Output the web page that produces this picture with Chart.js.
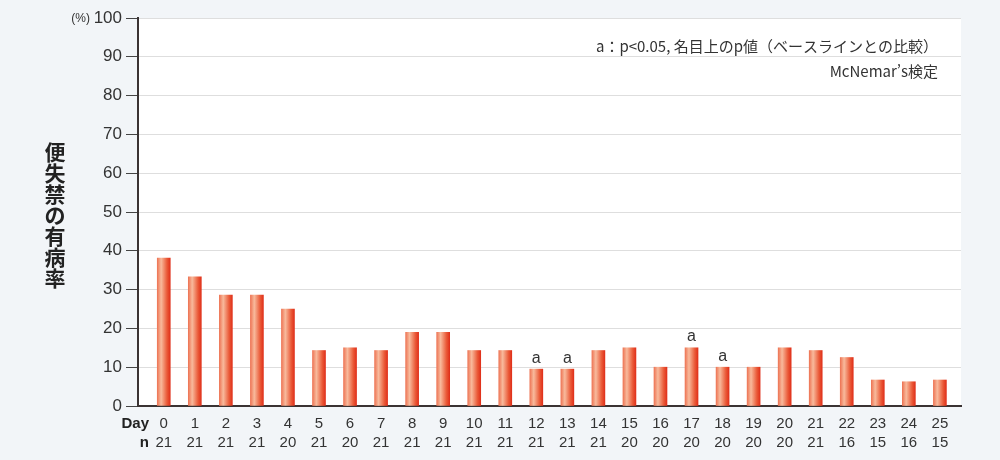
<!DOCTYPE html>
<html lang="ja">
<head>
	<meta charset="UTF-8">
	<title>便失禁の有病率</title>
	<style>
		html, body { margin: 0; padding: 0; background: #f2f5f8; }
		#wrap { width: 1000px; height: 460px; }
	</style>
</head>
<body>
	<div id="wrap">
		<canvas id="chart" width="1000" height="460"></canvas>
	</div>

	<script src="https://cdn.jsdelivr.net/npm/chart.js"></script>
	<script>
		// dados
		const days = [0, 1, 2, 3, 4, 5, 6, 7, 8, 9, 10, 11, 12, 13, 14, 15, 16, 17, 18, 19, 20, 21, 22, 23, 24, 25];
		const nValues = [21, 21, 21, 21, 20, 21, 20, 21, 21, 21, 21, 21, 21, 21, 21, 20, 20, 20, 20, 20, 20, 21, 16, 15, 16, 15];
		const prevalence = [38.1, 33.3, 28.6, 28.6, 25.0, 14.3, 15.0, 14.3, 19.0, 19.0, 14.3, 14.3, 9.5, 9.5, 14.3, 15.0, 10.0, 15.0, 10.0, 10.0, 15.0, 14.3, 12.5, 6.7, 6.25, 6.7];
		const marks = ['', '', '', '', '', '', '', '', '', '', '', '', 'a', 'a', '', '', '', 'a', 'a', '', '', '', '', '', '', ''];
		const yTicks = [0, 10, 20, 30, 40, 50, 60, 70, 80, 90, 100];
		const yTitle = '便失禁の有病率';
		const noteLines = ['a：p<0.05, 名目上のp値（ベースラインとの比較）', 'McNemar’s検定'];

		const jp = '"Noto Sans CJK JP", "Noto Sans", sans-serif';
		const num = '"Liberation Sans", Arial, sans-serif';

		// fundo branco da área do gráfico
		const plotBg = {
			id: 'plotBg',
			beforeDraw(chart) {
				const { ctx, chartArea: a } = chart;
				ctx.save();
				ctx.fillStyle = '#ffffff';
				ctx.fillRect(a.left, a.top, a.right - a.left, a.bottom - a.top);
				ctx.restore();
			}
		};

		// textos extras: título vertical, (%), Day/n, nota, marcas "a"
		const extras = {
			id: 'extras',
			afterDraw(chart) {
				const { ctx } = chart;
				const y = chart.scales.y;
				ctx.save();
				ctx.fillStyle = '#222';
				ctx.textAlign = 'center';
				ctx.textBaseline = 'middle';
				ctx.font = 'bold 21px ' + jp;
				const chars = Array.from(yTitle);
				chars.forEach((c, i) => ctx.fillText(c, 55, 152 + i * 21));

				ctx.font = '12px ' + num;
				ctx.fillStyle = '#333';
				ctx.textAlign = 'right';
				ctx.fillText('(%)', 90, y.getPixelForValue(100) + 1);

				ctx.font = 'bold 15px ' + num;
				ctx.fillStyle = '#222';
				ctx.fillText('Day', 149, 424);
				ctx.fillText('n', 149, 443);

				ctx.font = '15px ' + jp;
				ctx.fillStyle = '#333';
				ctx.fillText(noteLines[0], 938, 46);
				ctx.fillText(noteLines[1], 938, 71);

				ctx.textAlign = 'center';
				ctx.textBaseline = 'bottom';
				ctx.font = '16px ' + num;
				const meta = chart.getDatasetMeta(0);
				meta.data.forEach((bar, i) => {
					if (marks[i]) ctx.fillText(marks[i], bar.x, bar.y - 3);
				});
				ctx.restore();
			}
		};

		const ctx = document.getElementById('chart').getContext('2d');
		const chart = new Chart(ctx, {
			type: 'bar',
			data: {
				datasets: [{
					data: days.map((d, i) => ({ x: d, y: prevalence[i] })),
					barThickness: 13,
					borderWidth: 0,
					backgroundColor: (c) => {
						const ch = c.chart;
						if (!ch.chartArea || c.dataIndex === undefined) return '#ea5a3a';
						const cx = ch.scales.x.getPixelForValue(days[c.dataIndex]);
						const g = ch.ctx.createLinearGradient(cx - 6.5, 0, cx + 6.5, 0);
						g.addColorStop(0, '#ee7656');
						g.addColorStop(0.3, '#f8ba9c');
						g.addColorStop(0.75, '#ea5a38');
						g.addColorStop(1, '#e0301a');
						return g;
					}
				}]
			},
			options: {
				responsive: false,
				animation: false,
				layout: { padding: { top: 18, right: 39, left: 0, bottom: 0 } },
				plugins: { legend: { display: false }, tooltip: { enabled: false } },
				scales: {
					x: {
						type: 'linear',
						offset: false,
						min: -0.83,
						max: 25.68,
						afterFit: (s) => { s.height = 54; },
						afterBuildTicks: (s) => { s.ticks = days.map(d => ({ value: d })); },
						grid: { display: false, drawTicks: false, offset: false },
						border: { color: '#3a3333', width: 2 },
						ticks: {
							padding: 8,
							autoSkip: false,
							maxRotation: 0,
							color: '#333',
							font: { family: num, size: 15, lineHeight: 1.27 },
							callback: (v, i) => [String(days[i]), String(nValues[i])]
						}
					},
					y: {
						min: 0,
						max: 100,
						afterFit: (s) => { s.width = 138; },
						afterBuildTicks: (s) => { s.ticks = yTicks.map(v => ({ value: v })); },
						grid: { color: '#dedede', lineWidth: 1, tickColor: '#444', tickLength: 12 },
						border: { color: '#3a3333', width: 2 },
						ticks: {
							padding: 4,
							color: '#333',
							font: { family: num, size: 17 }
						}
					}
				}
			},
			plugins: [plotBg, extras]
		});
	</script>
</body>
</html>
